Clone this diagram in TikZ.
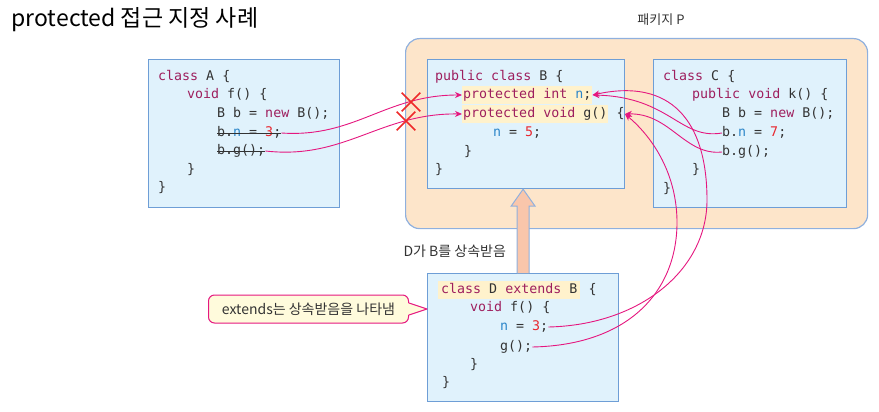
\documentclass[tikz,border=0pt]{standalone}
\usepackage{fontspec}
\setmainfont{Noto Sans CJK KR}
\setmonofont{DejaVu Sans Mono}
\usetikzlibrary{arrows.meta,shapes.misc,calc}

\definecolor{boxfill}{HTML}{E0F2FC}
\definecolor{boxline}{HTML}{6E9ED6}
\definecolor{pkgfill}{HTML}{FDE5CA}
\definecolor{pkgline}{HTML}{8FB0DE}
\definecolor{kwcolor}{HTML}{9E1F5E}
\definecolor{idcolor}{HTML}{2C86C9}
\definecolor{numcolor}{HTML}{E8262E}
\definecolor{codegray}{HTML}{333333}
\definecolor{hlfill}{HTML}{FFF2CC}
\definecolor{linkpink}{HTML}{E5177F}
\definecolor{crossred}{HTML}{EE2A2A}
\definecolor{inhfill}{HTML}{F9C6AB}
\definecolor{notefill}{HTML}{FFFBDC}

\newcommand{\kwd}[1]{\textcolor{kwcolor}{#1}}
\newcommand{\idn}[1]{\textcolor{idcolor}{#1}}
\newcommand{\lit}[1]{\textcolor{numcolor}{#1}}

\begin{document}
\begin{tikzpicture}[
  x=1pt, y=-1pt,
  code/.style={anchor=west, inner sep=0pt, text height=9.5pt, text depth=3pt, text=codegray, font=\ttfamily\fontsize{13.3}{16}\selectfont},
  hl/.style={code, fill=hlfill, inner ysep=3.2pt, inner xsep=1pt},
  classbox/.style={draw=boxline, fill=boxfill, line width=1.2pt, anchor=north west, inner sep=0pt},
  link/.style={draw=linkpink, line width=0.9pt, -{Stealth[length=7pt, width=6pt]}},
  nope/.style={cross out, draw=crossred, line width=1.6pt, minimum size=17pt, inner sep=0pt},
  note/.style={draw=linkpink, fill=notefill, rounded corners=6pt, line width=1pt, text=codegray, font=\fontsize{14}{16}\selectfont},
  inh/.style={fill=inhfill, draw=pkgline, line width=1pt}
]
\useasboundingbox (0,0) rectangle (879,412);

\node[anchor=west, font=\fontsize{23}{26}\selectfont] (title) at (8,20) {protected 접근 지정 사례};

% package P
\node[font=\fontsize{13}{16}\selectfont, text=codegray] (pkglabel) at (661,20) {패키지 P};
\node[draw=pkgline, fill=pkgfill, rounded corners=14pt, line width=1.2pt, minimum width=462, minimum height=190, anchor=north west] (pkg) at (405,38) {};

% class A
\node[classbox, minimum width=191, minimum height=148] (abox) at (148,59) {};
\node[code] (a1) at (158,77) {\kwd{class} A \{};
\node[code] (a2) at (187,95) {\kwd{void} f() \{};
\node[code] (a3) at (217,114) {B b = \kwd{new} B();};
\node[code] (a4) at (217,133) {b.\idn{n} = \lit{3};};
\node[code] (a5) at (217,151) {b.g();};
\node[code] (a6) at (187,170) {\}};
\node[code] (a7) at (158,188) {\}};
\draw[codegray, line width=0.9pt] (a4.west) -- (a4.east);
\draw[codegray, line width=0.9pt] (a5.west) -- (a5.east);

% class B
\node[classbox, minimum width=197, minimum height=129] (bbox) at (427,59) {};
\node[code] (b1) at (435,77) {\kwd{public class} B \{};
\node[hl] (bn) at (462,95) {\kwd{protected int} \idn{n};};
\node[hl] (bg) at (462,114) {\kwd{protected void} g()};
\node[code] (bgo) at (bg.east) {~\{};
\node[code] (b4) at (493,133) {\idn{n} = \lit{5};};
\node[code] (b5) at (464,152) {\}};
\node[code] (b6) at (435,170) {\}};

% class C
\node[classbox, minimum width=193, minimum height=148] (cbox) at (653,59) {};
\node[code] (c1) at (663,77) {\kwd{class} C \{};
\node[code] (c2) at (692,95) {\kwd{public void} k() \{};
\node[code] (c3) at (722,114) {B b = \kwd{new} B();};
\node[code] (cn) at (722,133) {b.\idn{n} = \lit{7};};
\node[code] (cg) at (722,152) {b.g();};
\node[code] (c6) at (692,170) {\}};
\node[code] (c7) at (663,189) {\}};

% class D
\node[classbox, minimum width=191, minimum height=128] (dbox) at (427,273) {};
\node[hl, inner xsep=3pt] (d1) at (438,290) {\kwd{class} D \kwd{extends} B};
\node[code] (d1o) at (d1.east) {~\{};
\node[code] (d2) at (470,308) {\kwd{void} f() \{};
\node[code] (dn) at (500,327) {\idn{n} = \lit{3};};
\node[code] (dg) at (500,347) {g();};
\node[code] (d5) at (470,365) {\}};
\node[code] (d6) at (442,383) {\}};

% inheritance
\coordinate (inhbase) at (dbox.north);
\coordinate (inhtip) at (bbox.south -| inhbase);
\draw[inh] ($(inhbase)+(-6,0)$) -- ($(inhtip)+(-6,17)$) -- ($(inhtip)+(-12,17)$) -- (inhtip)
  -- ($(inhtip)+(12,17)$) -- ($(inhtip)+(6,17)$) -- ($(inhbase)+(6,0)$);
\node[font=\fontsize{14}{16}\selectfont, text=codegray, anchor=west] (inhlabel) at (400,251) {D가 B를 상속받음};

% callout
\node[note, minimum width=200, minimum height=28, anchor=west] (extnote) at (208,309) {extends는 상속받음을 나타냄};
\coordinate (notetip) at (extnote.east -| dbox.west);
\fill[notefill] ($(extnote.east)+(-1.5,-6)$) -- (notetip) -- ($(extnote.east)+(-1.5,6)$) -- cycle;
\draw[linkpink, line width=1pt, line join=round] ($(extnote.east)+(0,-6)$) -- (notetip) -- ($(extnote.east)+(0,6)$);

% access links
\draw[link] (a4.east) .. controls (355,138) and (385,95) .. (bn.west);
\draw[link] (a5.east) .. controls (345,160) and (380,113) .. (bg.west);
\draw[link] (cn.west) .. controls (680,140) and (670,97) .. (bn.east);
\draw[link] (cg.west) .. controls (685,156) and (670,113) .. (bgo.east);
\draw[link] (dn.east) .. controls (640,325) and (707,270) .. (707,200) .. controls (707,120) and (670,78) .. (bn.east);
\draw[link] (dg.east) .. controls (630,345) and (678,290) .. (677,220) .. controls (676,170) and (650,135) .. (bgo.east);

\node[nope] (x1) at (411,102) {};
\node[nope] (x2) at (406,121) {};
\end{tikzpicture}
\end{document}
